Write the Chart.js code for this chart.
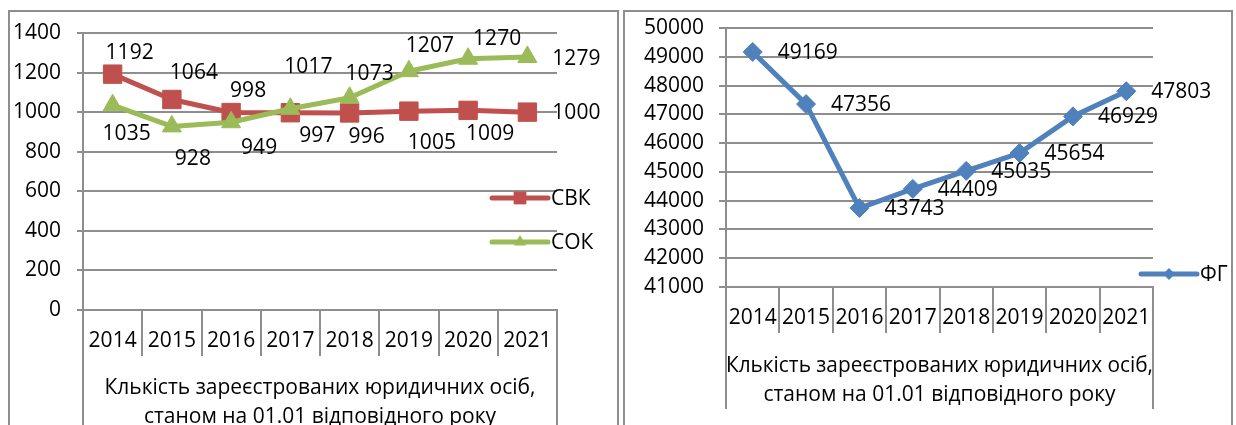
<!DOCTYPE html>
<html>
<head>
<meta charset="utf-8">
<script src="https://cdn.jsdelivr.net/npm/chart.js@4.4.1/dist/chart.umd.min.js"></script>
<style>
  html, body { margin: 0; padding: 0; background: #fff; width: 1236px; height: 425px; overflow: hidden; position: relative; }
  .box { position: absolute; border: 2px solid #8e8e8e; box-sizing: border-box; }
  #boxA { left: 8px; top: 10px; width: 611px; height: 440px; }
  #boxB { left: 623px; top: 10px; width: 610px; height: 440px; }
  #chartA { position: absolute; left: 0; top: 0; }
  #chartB { position: absolute; left: 620px; top: 0; }
</style>
</head>
<body>
<div class="box" id="boxA"></div>
<div class="box" id="boxB"></div>
<canvas id="chartA" width="620" height="440"></canvas>
<canvas id="chartB" width="616" height="425"></canvas>
<script>
// data
var years = ['2014', '2015', '2016', '2017', '2018', '2019', '2020', '2021'];
var svk = [1192, 1064, 998, 997, 996, 1005, 1009, 1000];
var sok = [1035, 928, 949, 1017, 1073, 1207, 1270, 1279];
var fg = [49169, 47356, 43743, 44409, 45035, 45654, 46929, 47803];
var axisTitle = ['Клькість зареєстрованих юридичних осіб,', 'станом на 01.01 відповідного року'];

// where each value label sits relative to its point (as placed in the original)
var svkShift = [[17, -21], [22, -26], [17, -22], [27, 23], [17, 24], [23, 32], [22, 24], [49, 1]];
var sokShift = [[14, 29], [21, 33], [28, 26], [18, -42], [20, -24], [21, -25], [29, -20], [49, 2]];
var fgShift = [55, 1];

var FONT = '"Open Sans", "Noto Sans", sans-serif';
var FS = 21;
var GRID = '#8e8e8e';

function marker(ctx, style, r, x, y) {
  ctx.beginPath();
  if (style === 'rect') {
    var s = r * Math.SQRT1_2;
    ctx.rect(x - s, y - s, 2 * s, 2 * s);
  } else if (style === 'triangle') {
    ctx.moveTo(x, y - r);
    ctx.lineTo(x + r * 0.866, y + r * 0.5);
    ctx.lineTo(x - r * 0.866, y + r * 0.5);
    ctx.closePath();
  } else {
    ctx.moveTo(x - r, y); ctx.lineTo(x, y - r); ctx.lineTo(x + r, y); ctx.lineTo(x, y + r);
    ctx.closePath();
  }
  ctx.fill();
}

// value labels next to the points
var pointLabels = {
  id: 'pointLabels',
  afterDatasetsDraw: function (chart) {
    var ctx = chart.ctx;
    ctx.save();
    ctx.font = FS + 'px ' + FONT;
    ctx.fillStyle = '#000';
    ctx.textAlign = 'center';
    ctx.textBaseline = 'middle';
    chart.data.datasets.forEach(function (ds, i) {
      chart.getDatasetMeta(i).data.forEach(function (pt, j) {
        var s = typeof ds.labelShift[0] === 'number' ? ds.labelShift : ds.labelShift[j];
        ctx.fillText(String(ds.data[j]), pt.x + s[0], pt.y + s[1]);
      });
    });
    ctx.restore();
  }
};

// excel-like legend: line with marker, then name
var lineLegend = {
  id: 'lineLegend',
  afterDraw: function (chart, args, o) {
    var ctx = chart.ctx;
    chart.data.datasets.forEach(function (ds, i) {
      var y = o.top + i * o.gap;
      ctx.save();
      ctx.strokeStyle = ds.borderColor;
      ctx.fillStyle = ds.borderColor;
      ctx.lineWidth = 5;
      ctx.lineCap = 'round';
      ctx.beginPath();
      ctx.moveTo(o.x1, y);
      ctx.lineTo(o.x2, y);
      ctx.stroke();
      marker(ctx, ds.pointStyle, o.radius[i], (o.x1 + o.x2) / 2, y);
      ctx.fillStyle = '#000';
      ctx.font = FS + 'px ' + FONT;
      ctx.textBaseline = 'middle';
      ctx.fillText(ds.label, o.x2 + 3, y + 1);
      ctx.restore();
    });
  }
};

// category frame lines running down past the tick area
var frameLines = {
  id: 'frameLines',
  afterDraw: function (chart) {
    var ctx = chart.ctx, x = chart.scales.x, a = chart.chartArea;
    ctx.save();
    ctx.strokeStyle = GRID;
    ctx.lineWidth = 2;
    ctx.beginPath();
    ctx.moveTo(a.left, a.bottom); ctx.lineTo(a.left, x.bottom);
    ctx.moveTo(a.right, a.bottom); ctx.lineTo(a.right, x.bottom);
    ctx.stroke();
    ctx.restore();
  }
};

function makeOptions(cfg) {
  return {
    responsive: false,
    animation: false,
    layout: { padding: cfg.padding },
    plugins: {
      legend: { display: false },
      tooltip: { enabled: false },
      lineLegend: cfg.legend
    },
    scales: {
      x: {
        offset: true,
        grid: { offset: true, drawOnChartArea: false, color: GRID, lineWidth: 2, tickLength: 46 },
        border: { color: GRID, width: 2 },
        ticks: { color: '#000', padding: -28, maxRotation: 0, autoSkip: false, font: { family: FONT, size: FS, lineHeight: 1.2 } },
        title: {
          display: true, text: axisTitle, color: '#000',
          font: { family: FONT, size: FS, lineHeight: cfg.titleLH },
          padding: { top: 0, bottom: cfg.titlePB }
        },
        afterFit: function (s) { s.height = cfg.xHeight; }
      },
      y: {
        min: cfg.min, max: cfg.max,
        grid: { color: GRID, lineWidth: 2, tickLength: cfg.tickLen },
        border: { color: GRID, width: 2 },
        ticks: {
          stepSize: cfg.step, color: '#000', padding: cfg.tickPad, font: { family: FONT, size: FS },
          callback: function (v) { return String(v); }
        },
        afterFit: function (s) { s.width = cfg.yWidth; }
      }
    }
  };
}

new Chart(document.getElementById('chartA'), {
  type: 'line',
  data: {
    labels: years,
    datasets: [
      {
        label: 'СВК', data: svk, labelShift: svkShift, order: 2,
        borderColor: '#c0504d', backgroundColor: '#c0504d', borderWidth: 5,
        borderJoinStyle: 'round', borderCapStyle: 'round',
        pointStyle: 'rect', pointRadius: 13, pointBorderWidth: 1
      },
      {
        label: 'СОК', data: sok, labelShift: sokShift, order: 1,
        borderColor: '#9bbb59', backgroundColor: '#9bbb59', borderWidth: 5,
        borderJoinStyle: 'round', borderCapStyle: 'round',
        pointStyle: 'triangle', pointRadius: 11, pointBorderWidth: 1
      }
    ]
  },
  options: makeOptions({
    padding: { left: 0, right: 63, top: 33, bottom: 0 },
    legend: { x1: 492, x2: 548, top: 198, gap: 44, radius: [9, 7] },
    min: 0, max: 1400, step: 200,
    yWidth: 83, tickLen: 6, tickPad: 16,
    xHeight: 130, titleLH: 1.38, titlePB: 8.5
  }),
  plugins: [pointLabels, lineLegend, frameLines]
});

new Chart(document.getElementById('chartB'), {
  type: 'line',
  data: {
    labels: years,
    datasets: [
      {
        label: 'ФГ', data: fg, labelShift: fgShift,
        borderColor: '#4f81bd', backgroundColor: '#4f81bd', borderWidth: 5,
        borderJoinStyle: 'round', borderCapStyle: 'round',
        pointStyle: 'rectRot', pointRadius: 9.5, pointBorderWidth: 1
      }
    ]
  },
  options: makeOptions({
    padding: { left: 0, right: 83, top: 28, bottom: 16 },
    legend: { x1: 521, x2: 577, top: 274, gap: 0, radius: [6] },
    min: 41000, max: 50000, step: 1000,
    yWidth: 106, tickLen: 7, tickPad: 15,
    xHeight: 122, titleLH: 1.36, titlePB: 0
  }),
  plugins: [pointLabels, lineLegend, frameLines]
});
</script>
</body>
</html>
